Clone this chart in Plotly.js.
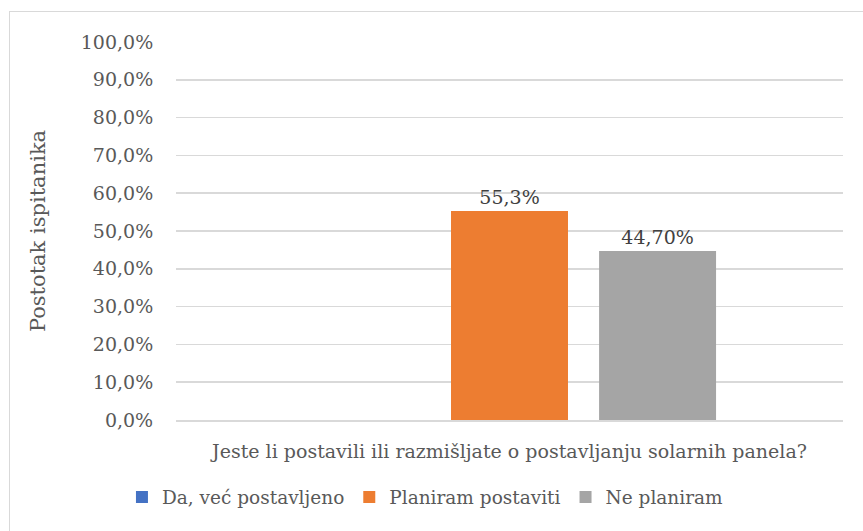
<!DOCTYPE html>
<html lang="hr">
<head>
    <meta charset="UTF-8">
    <title>Solarni paneli</title>
    <script src="https://cdn.plot.ly/plotly-3.0.1.min.js"></script>
    <style>
        body { margin: 0; background: #fff; }
        #frame {
            position: absolute;
            left: 9px;
            top: 11px;
            width: 900px;
            height: 560px;
            border-top: 1.5px solid #d9d9d9;
            border-left: 1.5px solid #d9d9d9;
        }
        #chart { position: absolute; left: 0; top: 0; width: 863px; height: 531px; }
    </style>
</head>
<body>
    <div id="frame"></div>
    <div id="chart"></div>

    <script>
        const categories = ['Jeste li postavili ili razmišljate o postavljanju solarnih panela?'];
        const seriesNames = ['Da, već postavljeno', 'Planiram postaviti', 'Ne planiram'];
        const seriesValues = [0, 0.553, 0.447];
        const valueLabels = ['', '55,3%', '44,70%'];
        const seriesColors = ['#4472c4', '#ed7d31', '#a5a5a5'];

        // Times-like serif is not available, DejaVu Serif is the closest installed face
        const font = 'DejaVu Serif';

        let data = seriesNames.map((name, i) => ({
            type: 'bar',
            name: name,
            x: categories,
            y: [seriesValues[i]],
            text: [valueLabels[i]],
            textposition: 'outside',
            textfont: { family: font, size: 19, color: '#404040' },
            cliponaxis: false,
            marker: { color: seriesColors[i] },
            hoverinfo: 'none'
        }));

        let layout = {
            width: 863,
            height: 531,
            margin: { l: 176, r: 20, t: 42, b: 111 },
            paper_bgcolor: 'rgba(0,0,0,0)',
            plot_bgcolor: 'rgba(0,0,0,0)',
            separators: ',.',
            font: { family: font, size: 19, color: '#595959' },
            barmode: 'group',
            bargap: 0.334,
            bargroupgap: 0.21,
            showlegend: true,
            legend: {
                orientation: 'h',
                x: 0.374,
                xanchor: 'center',
                y: -0.155,
                yanchor: 'top',
                itemwidth: 30,
                font: { family: font, size: 18.5, color: '#595959' },
                itemclick: false
            },
            xaxis: {
                type: 'category',
                showgrid: false,
                showline: true,
                linecolor: '#d9d9d9',
                linewidth: 1.5,
                ticks: 'outside',
                ticklen: 14,
                tickcolor: 'rgba(0,0,0,0)',
                tickfont: { family: font, size: 19, color: '#595959' }
            },
            yaxis: {
                range: [0, 1],
                dtick: 0.1,
                tickformat: '.1%',
                showgrid: true,
                gridcolor: '#d9d9d9',
                gridwidth: 1.5,
                zeroline: false,
                ticks: 'outside',
                ticklen: 18,
                tickcolor: 'rgba(0,0,0,0)',
                tickfont: { family: font, size: 19, color: '#595959' },
                title: {
                    text: 'Postotak ispitanika',
                    font: { family: font, size: 21, color: '#595959' },
                    standoff: 29
                }
            }
        };

        Plotly.newPlot('chart', data, layout, { displayModeBar: false, staticPlot: true });
    </script>
</body>
</html>
